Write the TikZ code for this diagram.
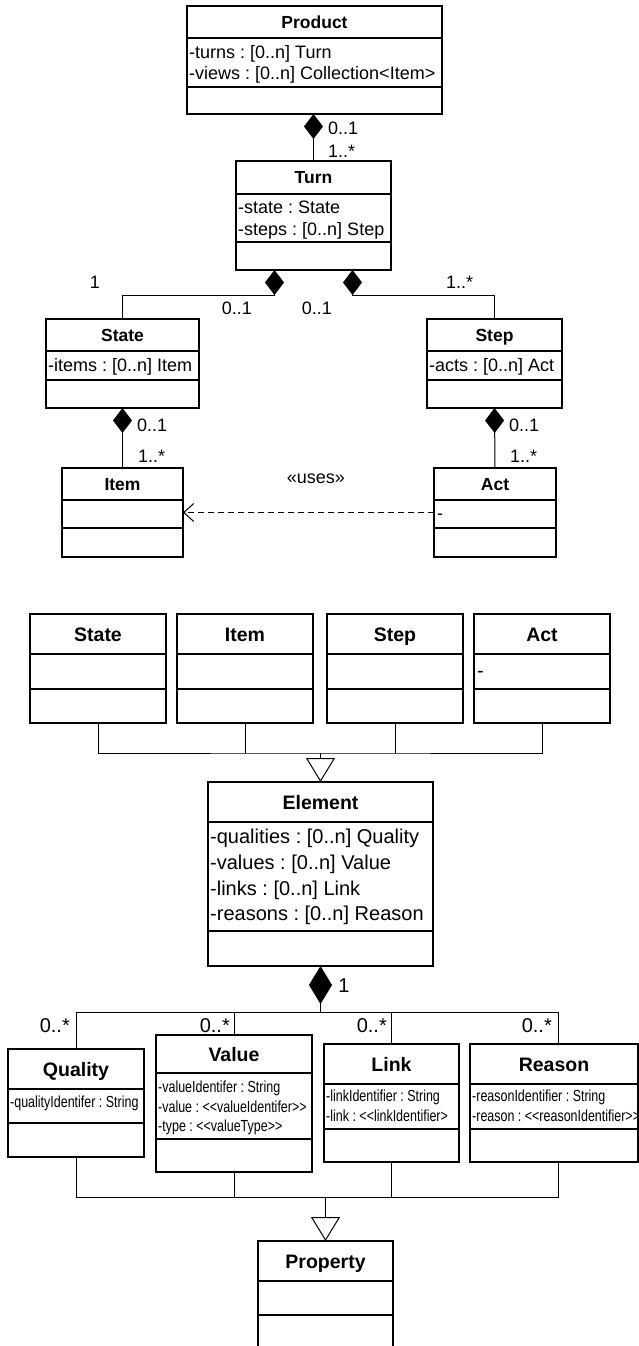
\documentclass[tikz,border=0pt]{standalone}
\usepackage{fontspec}
\setmainfont{Liberation Sans}
\newfontfamily\narrowfont{Liberation Sans}[FakeStretch=0.78, Ligatures=TeXOff]
\usetikzlibrary{arrows.meta}
\frenchspacing

\tikzset{
    classbox/.style = {draw, rectangle, line width=1.8pt,
        inner sep=0pt, outer sep=0pt},
    divider/.style = {line width=1.8pt},
    ctitle/.style = {inner sep=0pt, text height=12.6pt, text depth=0pt,
        font=\bfseries\fontsize{17.5pt}{21pt}\selectfont},
    ctitlebig/.style = {inner sep=0pt, text height=14pt, text depth=0pt,
        font=\bfseries\fontsize{19.5pt}{23pt}\selectfont},
    attr/.style = {anchor=west, inner sep=0pt, text height=12.9pt, text depth=0pt,
        font=\fontsize{18pt}{21pt}\selectfont},
    attrbig/.style = {attr, text height=14.4pt, font=\fontsize{20pt}{24pt}\selectfont},
    attrsmall/.style = {attr, text height=11.5pt, font=\narrowfont\fontsize{16pt}{19pt}\selectfont},
    mult/.style = {inner sep=0pt, text height=12.9pt, text depth=0pt,
        font=\fontsize{18pt}{21pt}\selectfont},
    multbig/.style = {mult, text height=14.4pt, font=\fontsize{20pt}{24pt}\selectfont},
    wire/.style = {draw, line width=1pt},
    compose/.style = {wire, {Diamond[length=25pt, width=19pt]}-},
    composebig/.style = {wire, {Diamond[length=38pt, width=23pt]}-},
    inherit/.style = {wire, -{Triangle[open, length=24pt, width=29pt]}},
    depend/.style = {wire, dash pattern=on 6pt off 4pt,
        -{Straight Barb[length=10pt, width=18pt]}}
}

% style, name, left, top, right, bottom, 1st divider, 2nd divider, title
\newcommand{\umlclass}[9]{%
    \node[classbox, minimum width={(#5-#3)*1pt}, minimum height={(#6-#4)*1pt}]
        (#2) at ({(#3+#5)/2},{(#4+#6)/2}) {};
    \draw[divider] (#3,#7) -- (#5,#7) (#3,#8) -- (#5,#8);
    \node[#1] at ({(#3+#5)/2},{(#4+#7)/2}) {#9};
}

\begin{document}
\begin{tikzpicture}[x=1pt, y=-1pt]
    \useasboundingbox (0,0) rectangle (639,1346);

    % product model
    \umlclass{ctitle}{product}{187}{6}{442}{114}{38}{87}{Product}
    \node[attr] at (189,51.7) {-turns : [0..n] Turn};
    \node[attr] at (189,73.3) {-views : [0..n] Collection<Item>};
    \umlclass{ctitle}{turn}{236}{161}{391}{270}{194}{242}{Turn}
    \node[attr] at (238,207.3) {-state : State};
    \node[attr] at (238,229) {-steps : [0..n] Step};
    \umlclass{ctitle}{state}{46}{319}{199}{408}{351}{380}{State}
    \node[attr] at (48,365.5) {-items : [0..n] Item};
    \umlclass{ctitle}{step}{427}{319}{562}{408}{351}{380}{Step}
    \node[attr] at (429,365.5) {-acts : [0..n] Act};
    \umlclass{ctitle}{item}{62}{468}{183}{557}{500}{528}{Item}
    \umlclass{ctitle}{act}{434}{468}{556}{557}{500}{528}{Act}
    \node[attr] at (437,513.5) {-};

    \draw[compose] (turn.north |- product.south) -- (turn.north);
    \draw[compose] ([xshift=-39pt]turn.south) -- ++(0,25) -| (state.north);
    \draw[compose] ([xshift=39pt]turn.south) -- ++(0,25) -| (step.north);
    \draw[compose] (state.south) -- (item.north);
    \draw[compose] (step.south) -- (act.north);
    \draw[depend] (act.west) -- (item.east);

    \node[mult, anchor=west] at (328,128) {0..1};
    \node[mult, anchor=west] at (328,151) {1..*};
    \node[mult] at (95,282) {1};
    \node[mult, anchor=west] at (221.7,308) {0..1};
    \node[mult, anchor=west] at (301.7,308) {0..1};
    \node[mult, anchor=west] at (446,282) {1..*};
    \node[mult, anchor=west] at (137,425) {0..1};
    \node[mult, anchor=west] at (138,456) {1..*};
    \node[mult, anchor=west] at (509,425) {0..1};
    \node[mult, anchor=west] at (510,456) {1..*};
    \node[mult, anchor=west] at (286.7,477) {«uses»};

    % element hierarchy
    \umlclass{ctitlebig}{stateE}{30}{614}{166}{723}{654}{689}{State}
    \umlclass{ctitlebig}{itemE}{177}{614}{313}{723}{654}{689}{Item}
    \umlclass{ctitlebig}{stepE}{327}{614}{463}{723}{654}{689}{Step}
    \umlclass{ctitlebig}{actE}{474}{614}{610}{723}{654}{689}{Act}
    \node[attrbig] at (477,670.5) {-};
    \umlclass{ctitlebig}{element}{208}{782}{433}{966}{822}{931}{Element}
    \node[attrbig] at (210,836.7) {-qualities : [0..n] Quality};
    \node[attrbig] at (210,862.3) {-values : [0..n] Value};
    \node[attrbig] at (210,888) {-links : [0..n] Link};
    \node[attrbig] at (210,913) {-reasons : [0..n] Reason};

    \coordinate (genA) at ([yshift=29pt]element.north);
    \draw[wire] (stateE.south) |- (genA) -| (actE.south);
    \draw[wire] (itemE.south) -- (itemE.south |- genA);
    \draw[wire] (stepE.south) -- (stepE.south |- genA);
    \draw[inherit] (genA) -- (element.north);

    % properties
    \umlclass{ctitlebig}{quality}{8}{1049}{144}{1157}{1089}{1123}{Quality}
    \node[attrsmall] at (10,1101.7) {-qualityIdentifer : String};
    \umlclass{ctitlebig}{value}{156}{1035}{312}{1172}{1073}{1139}{Value}
    \node[attrsmall] at (158,1086.7) {-valueIdentifer : String};
    \node[attrsmall] at (158,1106.7) {-value : <<valueIdentifer>>};
    \node[attrsmall] at (158,1126) {-type : <<valueType>>};
    \umlclass{ctitlebig}{link}{324}{1044}{459}{1162}{1084}{1129}{Link}
    \node[attrsmall] at (326,1096) {-linkIdentifier : String};
    \node[attrsmall] at (326,1116) {-link : <<linkIdentifier>};
    \umlclass{ctitlebig}{reason}{470}{1044}{638}{1162}{1084}{1129}{Reason}
    \node[attrsmall] at (472,1096) {-reasonIdentifier : String};
    \node[attrsmall] at (472,1116) {-reason : <<reasonIdentifier>>};
    \umlclass{ctitlebig}{property}{258}{1241}{393}{1352}{1281}{1315}{Property}

    \coordinate (hub) at ([yshift=-46pt]element.south);
    \draw[composebig] (element.south) -- (hub);
    \draw[wire] (quality.north) |- (hub) -| ([xshift=4pt]reason.north);
    \draw[wire] (value.north) -- (value.north |- hub);
    \draw[wire] (link.north) -- (link.north |- hub);
    \node[multbig] at (344,985) {1};
    \node[multbig, anchor=east] at (70,1025) {0..*};
    \node[multbig, anchor=east] at (230,1025) {0..*};
    \node[multbig, anchor=east] at (387,1025) {0..*};
    \node[multbig, anchor=east] at (552,1025) {0..*};

    \coordinate (genB) at ([yshift=44pt]property.north);
    \draw[wire] (quality.south) |- (genB) -| ([xshift=4pt]reason.south);
    \draw[wire] (value.south) -- (value.south |- genB);
    \draw[wire] (link.south) -- (link.south |- genB);
    \draw[inherit] (genB) -- (property.north);
\end{tikzpicture}
\end{document}
